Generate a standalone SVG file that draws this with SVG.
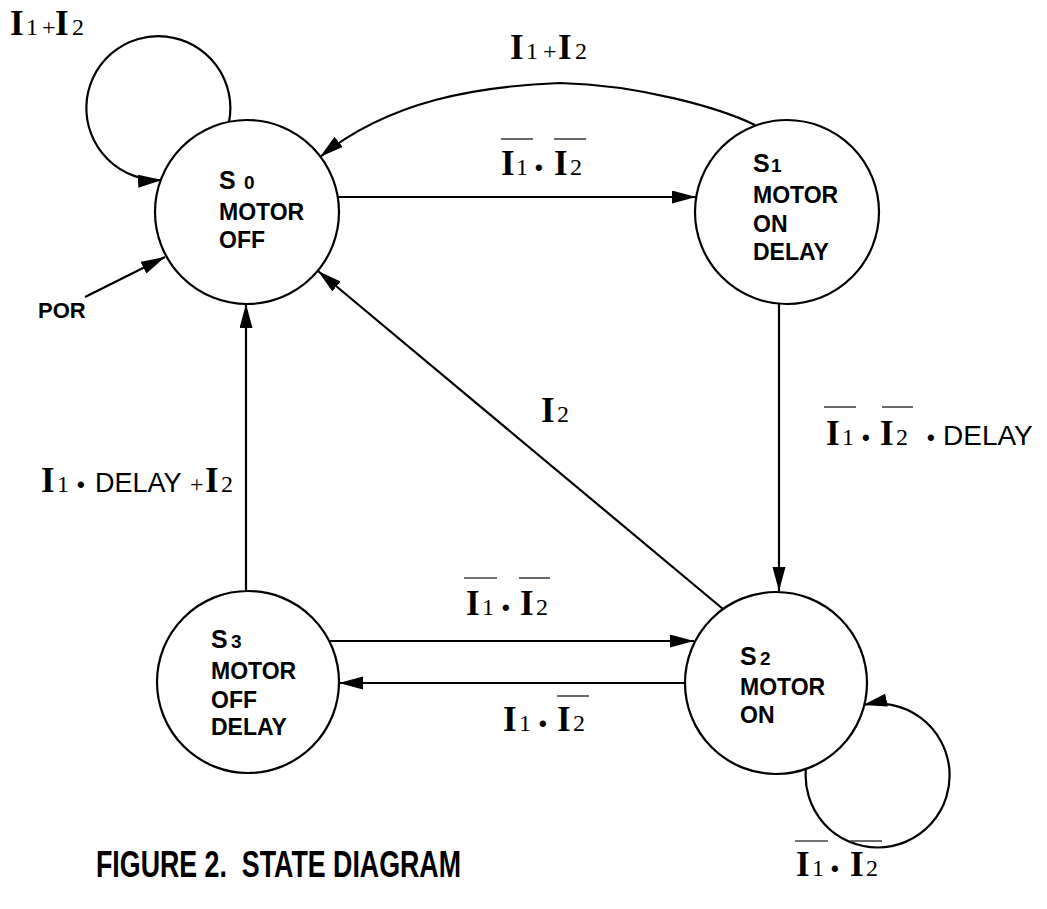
<svg xmlns="http://www.w3.org/2000/svg" width="1047" height="909" viewBox="0 0 1047 909">
  <style>
    .state { fill: #fff; stroke: #000; stroke-width: 2.2; }
    .edge { fill: none; stroke: #000; stroke-width: 2.2; }
    .bar { stroke: #444; stroke-width: 1.6; }
    .big { font-family: "Liberation Serif", "Times New Roman", serif; font-weight: bold; font-size: 35px; }
    .dig { font-family: "Liberation Serif", "Times New Roman", serif; font-size: 24px; }
    .dot { font-family: "Liberation Sans", Arial, sans-serif; font-weight: bold; font-size: 22px; }
    .word { font-family: "Liberation Sans", Arial, sans-serif; font-size: 28px; }
    .sname { font-family: "Liberation Sans", Arial, sans-serif; font-weight: bold; font-size: 25px; }
    .snum { font-family: "Liberation Sans", Arial, sans-serif; font-weight: bold; font-size: 19px; }
    .stext { font-family: "Liberation Sans", Arial, sans-serif; font-weight: bold; font-size: 23px; }
    .caption { font-family: "Liberation Sans", Arial, sans-serif; font-weight: bold; font-size: 36px; }
  </style>
  <defs>
    <marker id="arrow" markerUnits="userSpaceOnUse" markerWidth="26" markerHeight="14" refX="24" refY="6.5" orient="auto">
      <path d="M0,0 L24,6.5 L0,13 z" fill="#000"/>
    </marker>
  </defs>
  <rect width="1047" height="909" fill="#fff"/>

  <!-- transitions -->
  <g id="connectors">
    <path class="edge" d="M229 122 A72 72 0 1 0 162 180" marker-end="url(#arrow)"/>
    <path class="edge" d="M755 125 C720 108 640 85 560 83 C480 86 390 100 320 157" marker-end="url(#arrow)"/>
    <line class="edge" x1="338" y1="197" x2="696" y2="197" marker-end="url(#arrow)"/>
    <line class="edge" x1="85" y1="297" x2="165" y2="257" marker-end="url(#arrow)"/>
    <line class="edge" x1="779" y1="304" x2="779" y2="591" marker-end="url(#arrow)"/>
    <line class="edge" x1="723" y1="609" x2="318" y2="271" marker-end="url(#arrow)"/>
    <line class="edge" x1="246" y1="591" x2="246" y2="304" marker-end="url(#arrow)"/>
    <line class="edge" x1="330" y1="641" x2="694" y2="641" marker-end="url(#arrow)"/>
    <line class="edge" x1="685" y1="683" x2="339" y2="683" marker-end="url(#arrow)"/>
    <path class="edge" d="M806 768 A72 72 0 1 0 863 705" marker-end="url(#arrow)"/>
  </g>

  <!-- transition conditions -->
  <g id="labels">
    <text y="35"><tspan class="big" x="10">I</tspan><tspan class="dig" x="26">1</tspan><tspan class="dig" x="42">+</tspan><tspan class="big" x="55">I</tspan><tspan class="dig" x="72">2</tspan></text>

    <text y="59"><tspan class="big" x="510">I</tspan><tspan class="dig" x="526">1</tspan><tspan class="dig" x="543">+</tspan><tspan class="big" x="558">I</tspan><tspan class="dig" x="575">2</tspan></text>

    <text y="175"><tspan class="big" x="501">I</tspan><tspan class="dig" x="516">1</tspan><tspan class="dot" x="535">•</tspan><tspan class="big" x="554">I</tspan><tspan class="dig" x="570">2</tspan></text>
    <line class="bar" x1="501" y1="139" x2="533" y2="139"/>
    <line class="bar" x1="554" y1="139" x2="586" y2="139"/>

    <text y="445"><tspan class="big" x="826">I</tspan><tspan class="dig" x="842">1</tspan><tspan class="dot" x="862">•</tspan><tspan class="big" x="880">I</tspan><tspan class="dig" x="896">2</tspan><tspan class="dot" x="927">•</tspan><tspan class="word" x="943">DELAY</tspan></text>
    <line class="bar" x1="824" y1="407" x2="856" y2="407"/>
    <line class="bar" x1="882" y1="407" x2="913" y2="407"/>

    <text y="422"><tspan class="big" x="541">I</tspan><tspan class="dig" x="557">2</tspan></text>

    <text y="492"><tspan class="big" x="41">I</tspan><tspan class="dig" x="57">1</tspan><tspan class="dot" x="77">•</tspan><tspan class="word" x="95" style="font-size:27px">DELAY</tspan><tspan class="dig" x="190">+</tspan><tspan class="big" x="205">I</tspan><tspan class="dig" x="221">2</tspan></text>

    <text y="615"><tspan class="big" x="466">I</tspan><tspan class="dig" x="482">1</tspan><tspan class="dot" x="502">•</tspan><tspan class="big" x="520">I</tspan><tspan class="dig" x="536">2</tspan></text>
    <line class="bar" x1="464" y1="578" x2="497" y2="578"/>
    <line class="bar" x1="519" y1="578" x2="550" y2="578"/>

    <text y="731"><tspan class="big" x="503">I</tspan><tspan class="dig" x="519">1</tspan><tspan class="dot" x="539">•</tspan><tspan class="big" x="557">I</tspan><tspan class="dig" x="573">2</tspan></text>
    <line class="bar" x1="557" y1="696" x2="589" y2="696"/>

    <text y="876"><tspan class="big" x="796">I</tspan><tspan class="dig" x="812">1</tspan><tspan class="dot" x="831">•</tspan><tspan class="big" x="850">I</tspan><tspan class="dig" x="866">2</tspan></text>
    <line class="bar" x1="795" y1="841" x2="828" y2="841"/>
    <line class="bar" x1="850" y1="841" x2="882" y2="841"/>

    <text class="stext" x="38" y="318" style="font-size:22px">POR</text>
  </g>

  <g id="S0">
    <circle class="state" cx="247" cy="212" r="92"/>
    <text y="189"><tspan class="sname" x="219">S</tspan><tspan class="snum" x="244">0</tspan></text>
    <text class="stext" x="219" y="220">MOTOR</text>
    <text class="stext" x="219" y="248">OFF</text>
  </g>

  <g id="S1">
    <circle class="state" cx="787" cy="212" r="92"/>
    <text y="172"><tspan class="sname" x="753">S</tspan><tspan class="snum" x="771">1</tspan></text>
    <text class="stext" x="753" y="203">MOTOR</text>
    <text class="stext" x="753" y="232">ON</text>
    <text class="stext" x="753" y="260">DELAY</text>
  </g>

  <g id="S2">
    <circle class="state" cx="776" cy="683" r="91"/>
    <text y="665"><tspan class="sname" x="740">S</tspan><tspan class="snum" x="760">2</tspan></text>
    <text class="stext" x="740" y="695">MOTOR</text>
    <text class="stext" x="740" y="723">ON</text>
  </g>

  <g id="S3">
    <circle class="state" cx="248" cy="682" r="91"/>
    <text y="648"><tspan class="sname" x="211">S</tspan><tspan class="snum" x="231">3</tspan></text>
    <text class="stext" x="211" y="679">MOTOR</text>
    <text class="stext" x="211" y="708">OFF</text>
    <text class="stext" x="211" y="735">DELAY</text>
  </g>

  <text class="caption" x="96" y="877" textLength="365" lengthAdjust="spacingAndGlyphs" xml:space="preserve">FIGURE 2.  STATE DIAGRAM</text>
</svg>
